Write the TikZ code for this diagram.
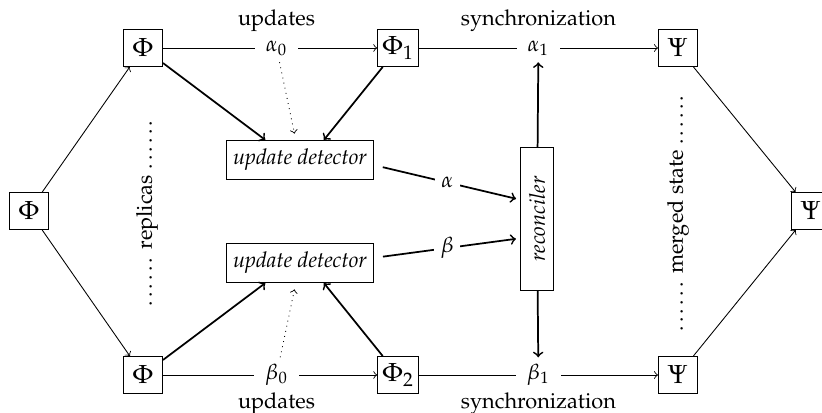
\documentclass[tikz,border=0pt]{standalone}
\usepackage[T1]{fontenc}
\usepackage{mathpazo}
\begin{document}
\begin{tikzpicture}[x=0.46pt, y=-0.46pt,
		state/.style={draw, font=\large, inner sep=2pt, minimum width=18pt, minimum height=17pt},
		detector/.style={draw, font=\itshape, inner xsep=2pt, minimum width=68pt, minimum height=18pt},
		lbl/.style={fill=white, inner xsep=5pt, inner ysep=3pt}]
		\useasboundingbox (0, 0) rectangle (822, 413);
		
		% replicas and their states
		\node[state] (L) at (29, 211) {$\Phi$};
		\node[state] (P) at (143, 48) {$\Phi$};
		\node[state] (Q) at (143, 375) {$\Phi$};
		\node[state] (P1) at (398, 48) {$\Phi_1$};
		\node[state] (P2) at (398, 375) {$\Phi_2$};
		\node[state] (S1) at (678, 48) {$\Psi$};
		\node[state] (S2) at (678, 375) {$\Psi$};
		\node[state] (R) at (811, 211) {$\Psi$};
		
		% detectors and reconciler
		\node[detector] (ud1) at (300, 160) {update detector};
		\node[detector] (ud2) at (300, 263) {update detector};
		\node[draw, rotate=90, font=\itshape, minimum width=66pt, minimum height=15pt] (rec) at (537, 219) {reconciler};
		
		\node[rotate=90] (reps) at (147, 212) {\ldots\ldots\ replicas \ldots\ldots};
		\node[rotate=90] (merged) at (678, 212) {\ldots\ldots\ merged state \ldots\ldots};
		
		% thin edges
		\draw[->] (L) -- (P);
		\draw[->] (L) -- (Q);
		\draw[->] (S1) -- (R);
		\draw[->] (S2) -- (R);
		\draw[->] (P) -- node[lbl, pos=0.53] (a0) {$\alpha_0$} node[above=4pt, pos=0.53] {updates} (P1);
		\draw[->] (Q) -- node[lbl, pos=0.53] (b0) {$\beta_0$} node[below=4.5pt, pos=0.53] {updates} (P2);
		\draw[->] (P1) -- node[lbl] (a1) {$\alpha_1$} node[above=4pt] {synchronization} (S1);
		\draw[->] (P2) -- node[lbl] (b1) {$\beta_1$} node[below=4.5pt] {synchronization} (S2);
		\draw[dotted, ->, shorten >=3pt] (a0) -- (ud1);
		\draw[dotted, ->, shorten >=3pt] (b0) -- (ud2);
		
		% thick edges
		\draw[thick, ->] (P) -- (ud1.150);
		\draw[thick, ->] (P1) -- (ud1.40);
		\draw[thick, ->] (Q) -- (ud2.210);
		\draw[thick, ->] (P2) -- (ud2.320);
		\draw[thick, ->, shorten <=4pt, shorten >=2pt] (ud1.-4) -- node[lbl, inner xsep=3pt] {$\alpha$} (rec.41);
		\draw[thick, ->, shorten <=4pt, shorten >=2pt] (ud2.4) -- node[lbl, inner xsep=3pt] {$\beta$} (rec.139);
		\draw[thick, ->] (rec) -- (a1);
		\draw[thick, ->] (rec) -- (b1);
	\end{tikzpicture}
\end{document}
